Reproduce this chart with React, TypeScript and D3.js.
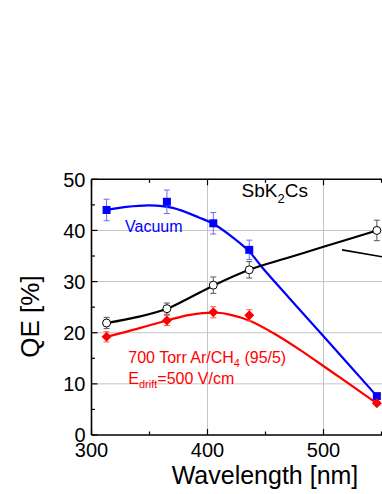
import React from "react";
import * as d3 from "d3";

// measured points (wavelength nm, QE %, error)
const wavelengths = [313, 365, 405, 436, 546];
const vacuumQE = [44.0, 45.6, 41.4, 36.2, 7.6];
const vacuumErr = [2.1, 2.3, 2.1, 1.9, 0.3];
const openQE = [21.9, 24.7, 29.3, 32.3, 40.0];
const openErr = [1.1, 1.1, 1.6, 1.6, 2.0];
const gasQE = [19.2, 22.4, 24.0, 23.4, 6.2];
const gasErr = [1.0, 1.0, 1.1, 1.1, 0.3];

// fitted curves
const vacuumFitX = [313, 330, 350, 370, 393, 405, 422, 436, 447, 470, 500, 546];
const vacuumFitY = [44.0, 44.6, 44.9, 44.4, 42.5, 41.3, 38.6, 35.9, 32.8, 26.9, 19.3, 7.6];
const openFitX = [313, 340, 365, 385, 405, 436, 470, 500, 546];
const openFitY = [21.9, 23.1, 24.7, 26.9, 29.2, 32.3, 34.7, 36.8, 40.0];
const gasFitX = [313, 340, 365, 385, 408, 420, 436, 457, 480, 503, 546];
const gasFitY = [19.2, 20.8, 22.4, 23.5, 23.9, 23.5, 22.4, 19.9, 16.6, 13.0, 6.2];

// stray line at right edge (partial annotation)
const markX = [516, 552];
const markY = [36.2, 34.8];

const xMajor = [300, 400, 500, 600];
const xMinor = [350, 450, 550];
const yMajor = [0, 10, 20, 30, 40, 50];
const yMinor = [5, 15, 25, 35, 45];

const W = 382;
const H = 494;
const font = "'Liberation Sans', Arial, sans-serif";

const x = d3.scaleLinear().domain([300, 600]).range([91.5, 439.5]);
const y = d3.scaleLinear().domain([0, 50]).range([435, 179.3]);

const fitLine = d3
  .line<[number, number]>()
  .x((d) => x(d[0]))
  .y((d) => y(d[1]))
  .curve(d3.curveCatmullRom.alpha(0.5));

const zip = (a: number[], b: number[]) => a.map((v, i) => [v, b[i]] as [number, number]);

const ErrorBars = ({ vals, errs, color }: { vals: number[]; errs: number[]; color: string }) => (
  <g stroke={color} strokeWidth={1}>
    {wavelengths.map((w, i) => {
      const cx = x(w);
      const y1 = y(vals[i] + errs[i]);
      const y2 = y(vals[i] - errs[i]);
      return (
        <g key={w}>
          <line x1={cx} x2={cx} y1={y1} y2={y2} />
          <line x1={cx - 3} x2={cx + 3} y1={y1} y2={y1} />
          <line x1={cx - 3} x2={cx + 3} y1={y2} y2={y2} />
        </g>
      );
    })}
  </g>
);

export default function App() {
  const left = x(300);
  const top = y(50);
  const bottom = y(0);
  return (
    <svg
      width={W}
      height={H}
      style={{ position: "absolute", left: 0, top: 0, background: "#fff" }}
      fontFamily={font}
    >
      <defs>
        <clipPath id="plot">
          <rect x={left} y={0} width={W - left} height={H} />
        </clipPath>
      </defs>

      {/* grid */}
      <g stroke="#c4c4c4" strokeWidth={1}>
        {yMajor.filter((v) => v > 0 && v < 50).map((v) => (
          <line key={v} x1={left} x2={W} y1={y(v)} y2={y(v)} />
        ))}
        {xMajor.filter((v) => v > 300 && x(v) < W).map((v) => (
          <line key={v} x1={x(v)} x2={x(v)} y1={top} y2={bottom} />
        ))}
      </g>

      {/* ticks */}
      <g stroke="#000" strokeWidth={1.2}>
        {yMajor.map((v) => (
          <line key={"ym" + v} x1={left} x2={left + 6} y1={y(v)} y2={y(v)} />
        ))}
        {yMinor.map((v) => (
          <line key={"yn" + v} x1={left} x2={left + 3.5} y1={y(v)} y2={y(v)} />
        ))}
        {xMajor.filter((v) => x(v) < W).map((v) => (
          <g key={"xm" + v}>
            <line x1={x(v)} x2={x(v)} y1={bottom} y2={bottom - 6} />
            <line x1={x(v)} x2={x(v)} y1={top} y2={top + 6} />
          </g>
        ))}
        {xMinor.filter((v) => x(v) < W).map((v) => (
          <g key={"xn" + v}>
            <line x1={x(v)} x2={x(v)} y1={bottom} y2={bottom - 3.5} />
            <line x1={x(v)} x2={x(v)} y1={top} y2={top + 3.5} />
          </g>
        ))}
      </g>

      {/* frame */}
      <g stroke="#000" strokeWidth={1.6} fill="none">
        <line x1={left} x2={left} y1={top} y2={bottom} />
        <line x1={left} x2={W} y1={top} y2={top} />
        <line x1={left} x2={W} y1={bottom} y2={bottom} />
      </g>

      {/* tick labels */}
      <g fontSize={20} fill="#000">
        {yMajor.map((v) => (
          <text key={v} x={left - 6} y={y(v)} dy="0.36em" textAnchor="end">
            {v}
          </text>
        ))}
        {xMajor.filter((v) => x(v) < W - 10).map((v) => (
          <text key={v} x={x(v)} y={457} textAnchor="middle">
            {v}
          </text>
        ))}
      </g>

      {/* axis titles */}
      <text x={265} y={484} fontSize={25} textAnchor="middle" fill="#000">
        Wavelength [nm]
      </text>
      <text
        transform={`translate(39,316.5) rotate(-90)`}
        fontSize={26}
        textAnchor="middle"
        fill="#000"
      >
        QE [%]
      </text>

      <g clipPath="url(#plot)">
        {/* fits */}
        <path d={fitLine(zip(vacuumFitX, vacuumFitY)) || ""} fill="none" stroke="#0000ff" strokeWidth={2.2} />
        <path d={fitLine(zip(openFitX, openFitY)) || ""} fill="none" stroke="#000" strokeWidth={2.2} />
        <path d={fitLine(zip(gasFitX, gasFitY)) || ""} fill="none" stroke="#ff0000" strokeWidth={2.2} />
        <line x1={x(markX[0])} x2={x(markX[1])} y1={y(markY[0])} y2={y(markY[1])} stroke="#000" strokeWidth={1.6} />

        {/* error bars */}
        <ErrorBars vals={vacuumQE} errs={vacuumErr} color="#6a6aff" />
        <ErrorBars vals={openQE} errs={openErr} color="#555" />
        <ErrorBars vals={gasQE} errs={gasErr} color="#ff5a5a" />

        {/* markers */}
        {wavelengths.map((w, i) => (
          <rect key={"v" + w} x={x(w) - 4} y={y(vacuumQE[i]) - 4} width={8} height={8} fill="#0000ff" />
        ))}
        {wavelengths.map((w, i) => (
          <circle key={"o" + w} cx={x(w)} cy={y(openQE[i])} r={4} fill="#fff" stroke="#000" strokeWidth={1} />
        ))}
        {wavelengths.map((w, i) => {
          const cx = x(w);
          const cy = y(gasQE[i]);
          return (
            <path
              key={"g" + w}
              d={`M${cx},${cy - 5}L${cx + 5},${cy}L${cx},${cy + 5}L${cx - 5},${cy}Z`}
              fill="#ff0000"
            />
          );
        })}
      </g>

      {/* labels */}
      <text x={241.5} y={197.3} fontSize={19} fill="#000">
        SbK<tspan fontSize={13} dy={6}>2</tspan>
        <tspan dy={-6}>Cs</tspan>
      </text>
      <text x={125} y={231.7} fontSize={16} fill="#0000ff">
        Vacuum
      </text>
      <text x={128.3} y={363.3} fontSize={16} fill="#ff0000">
        700 Torr Ar/CH<tspan fontSize={11} dy={4}>4</tspan>
        <tspan dy={-4}> (95/5)</tspan>
      </text>
      <text x={128.3} y={384} fontSize={16} fill="#ff0000">
        E<tspan fontSize={11} dy={4}>drift</tspan>
        <tspan dy={-4}>=500 V/cm</tspan>
      </text>
    </svg>
  );
}
